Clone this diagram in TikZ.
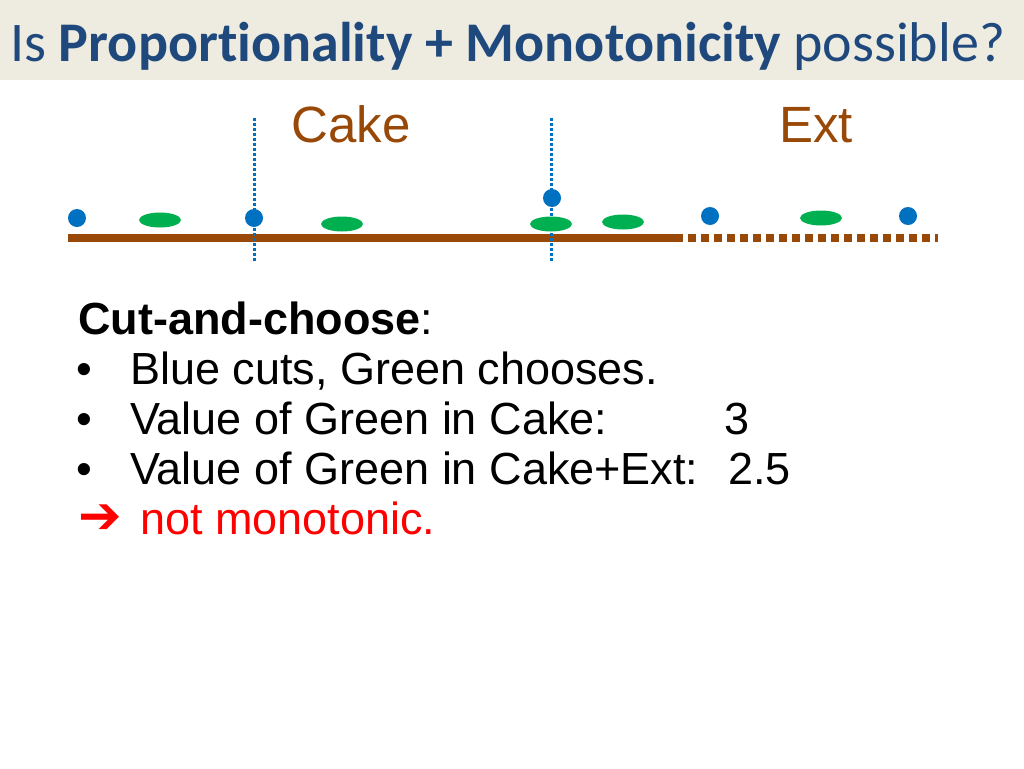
\documentclass[tikz,border=0pt]{standalone}
\usepackage{fontspec}
\usetikzlibrary{shapes.geometric}
\setmainfont{Liberation Sans}
\newfontfamily\titlefont[RawFeature=-liga]{Carlito}
\newfontfamily\symfont{DejaVu Sans}
\definecolor{titleblue}{HTML}{1F497D}
\definecolor{band}{HTML}{EEECE1}
\definecolor{cakebrown}{HTML}{984807}
\definecolor{dotblue}{HTML}{0070C0}
\definecolor{elgreen}{HTML}{00B050}
\begin{document}
\begin{tikzpicture}[x=1pt,y=-1pt,
  bdot/.style={circle,fill=dotblue,inner sep=0pt,minimum size=18pt},
  gell/.style={ellipse,fill=elgreen,inner sep=0pt,minimum width=42pt,minimum height=15pt},
  cutline/.style={dotblue,line width=3pt,dash pattern=on 3pt off 2pt},
  body/.style={anchor=base west,inner sep=0pt,font=\fontsize{45}{50}\selectfont}]
\useasboundingbox (0,0) rectangle (1024,768);
\fill[band] (0,0) rectangle (1024,80);
\node[anchor=base west,inner sep=0pt,text=titleblue,font=\titlefont\fontsize{56}{60}\selectfont] (title) at (10,61) {Is \textbf{Proportionality + Monotonicity} possible?};
\node[anchor=base,inner sep=0pt,text=cakebrown,font=\fontsize{51}{55}\selectfont] (cake) at (351,142) {Cake};
\node[anchor=base,inner sep=0pt,text=cakebrown,font=\fontsize{51}{55}\selectfont] (ext) at (816,142) {Ext};
\coordinate (c1t) at (254,118); \coordinate (c1b) at (254,262);
\coordinate (c2t) at (551,118); \coordinate (c2b) at (551,262);
\coordinate (l0) at (68,238); \coordinate (l1) at (675,238); \coordinate (l2) at (938,238);
\draw[cakebrown,line width=8pt] (l0) -- (l1);
\draw[cakebrown,line width=8pt,dash pattern=on 8pt off 5pt] (l1) -- (l2);
\draw[cutline] (c1t) -- (c1b);
\draw[cutline] (c2t) -- (c2b);
\node[gell] (g1) at (160,220) {};
\node[gell] (g2) at (342,224) {};
\node[gell] (g3) at (551,224) {};
\node[gell] (g4) at (623,222) {};
\node[gell] (g5) at (821,218) {};
\node[bdot] (b1) at (77,218) {};
\node[bdot] (b2) at (254,218) {};
\node[bdot] (b3) at (552,198) {};
\node[bdot] (b4) at (710,216) {};
\node[bdot] (b5) at (908,216) {};
\node[body] (t0) at (78,334) {\textbf{Cut-and-choose}:};
\node[body] (bu1) at (76,384) {•};
\node[body] (t1) at (130,384) {Blue cuts, Green chooses.};
\node[body] (bu2) at (76,434) {•};
\node[body] (t2) at (130,434) {Value of Green in Cake:};
\node[body] (v2) at (724,434) {3};
\node[body] (bu3) at (76,484) {•};
\node[body] (t3) at (130,484) {Value of Green in Cake+Ext:};
\node[body] (v3) at (728,484) {2.5};
\node[body,text=red] (ar) at (78,533) {\symfont\bfseries\fontsize{52}{55}\selectfont ➔};
\node[body,text=red] (t4) at (140,534) {not monotonic.};
\end{tikzpicture}
\end{document}
